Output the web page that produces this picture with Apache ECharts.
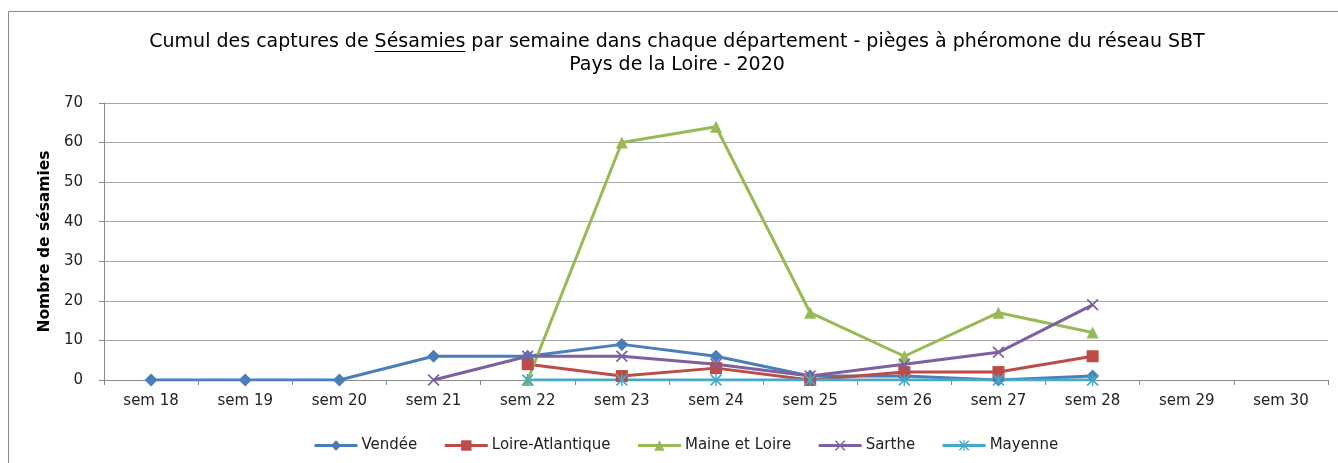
<!DOCTYPE html>
<html>
<head>
<meta charset="utf-8">
<script src="https://cdn.jsdelivr.net/npm/echarts@6/dist/echarts.min.js"></script>
<style>
  html, body { margin: 0; padding: 0; background: #fff; }
  #chart { width: 1338px; height: 463px; }
</style>
</head>
<body>
<div id="chart"></div>
<script>
var weeks = ['sem 18','sem 19','sem 20','sem 21','sem 22','sem 23','sem 24','sem 25','sem 26','sem 27','sem 28','sem 29','sem 30'];
var vendee   = [0, 0, 0, 6, 6, 9, 6, 1, 1, 0, 1, null, null];
var loireAtl = [null, null, null, null, 4, 1, 3, 0, 2, 2, 6, null, null];
var maine    = [null, null, null, null, 0, 60, 64, 17, 6, 17, 12, null, null];
var sarthe   = [null, null, null, 0, 6, 6, 4, 1, 4, 7, 19, null, null];
var mayenne  = [null, null, null, null, 0, 0, 0, 0, 0, 0, 0, null, null];
var yTicks   = [0, 10, 20, 30, 40, 50, 60, 70];

var titleLine1a = 'Cumul des captures de ';
var titleWord = 'Sésamies';
var titleLine1b = ' par semaine dans chaque département - pièges à phéromone du réseau SBT';
var titleLine2 = 'Pays de la Loire - 2020';

var FONT = 'DejaVu Sans';
var xMark = 'path://M0,1L1,0L5,4L9,0L10,1L6,5L10,9L9,10L5,6L1,10L0,9L4,5Z';
var starMark = 'path://M0,1L1,0L5,4L9,0L10,1L6,5L10,9L9,10L5,6L1,10L0,9L4,5Z M4.4,0L5.6,0L5.6,10L4.4,10Z';

// measure the first title line so the underline sits under "Sésamies"
var cv = document.createElement('canvas').getContext('2d');
cv.font = '19px "' + FONT + '"';
var wA = cv.measureText(titleLine1a).width;
var wW = cv.measureText(titleWord).width;
var wAll = cv.measureText(titleLine1a + titleWord + titleLine1b).width;
var titleCenter = 677;
var ulStart = titleCenter - wAll / 2 + wA;

var myChart = echarts.init(document.getElementById('chart'));

function serie(name, data, color, symbol, size) {
    return {
        name: name,
        type: 'line',
        data: data,
        symbol: symbol,
        symbolSize: size,
        showSymbol: true,
        connectNulls: false,
        lineStyle: { color: color, width: 3 },
        itemStyle: { color: color },
        emphasis: { disabled: true }
    };
}

var option = {
    backgroundColor: '#fff',
    animation: false,
    title: {
        text: titleLine1a + titleWord + titleLine1b + '\n' + titleLine2,
        left: titleCenter,
        top: 31,
        padding: 0,
        textAlign: 'center',
        textStyle: {
            fontFamily: FONT,
            fontSize: 19,
            fontWeight: 'normal',
            color: '#000',
            lineHeight: 23
        }
    },
    legend: {
        left: 308,
        top: 433,
        itemWidth: 43,
        itemHeight: 13,
        itemGap: 26,
        lineStyle: { width: 3 },
        textStyle: { fontFamily: FONT, fontSize: 15, color: '#222', padding: [0, 0, 0, -1] },
        data: ['Vendée', 'Loire-Atlantique', 'Maine et Loire', 'Sarthe', 'Mayenne']
    },
    grid: { left: 104, right: 10, top: 103, bottom: 83 },
    xAxis: {
        type: 'category',
        data: weeks,
        boundaryGap: true,
        axisLine: { lineStyle: { color: '#888', width: 1 } },
        axisTick: { show: true, length: 5, lineStyle: { color: '#888' } },
        axisLabel: { margin: 14, fontFamily: FONT, fontSize: 15, color: '#222' },
        splitLine: { show: false }
    },
    yAxis: {
        type: 'value',
        min: yTicks[0],
        max: yTicks[yTicks.length - 1],
        interval: 10,
        name: 'Nombre de sésamies',
        nameLocation: 'middle',
        nameGap: 49,
        nameTextStyle: { fontFamily: FONT, fontSize: 15.5, fontWeight: 'bold', color: '#000' },
        axisLine: { show: true, lineStyle: { color: '#888', width: 1 } },
        axisTick: { show: true, length: 5, lineStyle: { color: '#888' } },
        axisLabel: { margin: 21, fontFamily: FONT, fontSize: 15, color: '#222' },
        splitLine: { lineStyle: { color: '#a6a6a6', width: 1 } }
    },
    graphic: [
        {
            type: 'rect',
            shape: { x: 8.5, y: 11.5, width: 1340, height: 470 },
            style: { fill: 'none', stroke: '#888', lineWidth: 1 },
            silent: true
        },
        {
            type: 'line',
            shape: { x1: ulStart, y1: 51.5, x2: ulStart + wW, y2: 51.5 },
            style: { stroke: '#000', lineWidth: 1 },
            silent: true
        }
    ],
    series: [
        serie('Vendée', vendee, '#4a7ebb', 'diamond', 13),
        serie('Loire-Atlantique', loireAtl, '#be4b48', 'rect', 12),
        serie('Maine et Loire', maine, '#98b954', 'triangle', 12),
        serie('Sarthe', sarthe, '#7d60a0', xMark, 12),
        serie('Mayenne', mayenne, '#46aac5', starMark, 12)
    ]
};

myChart.setOption(option);
</script>
</body>
</html>
